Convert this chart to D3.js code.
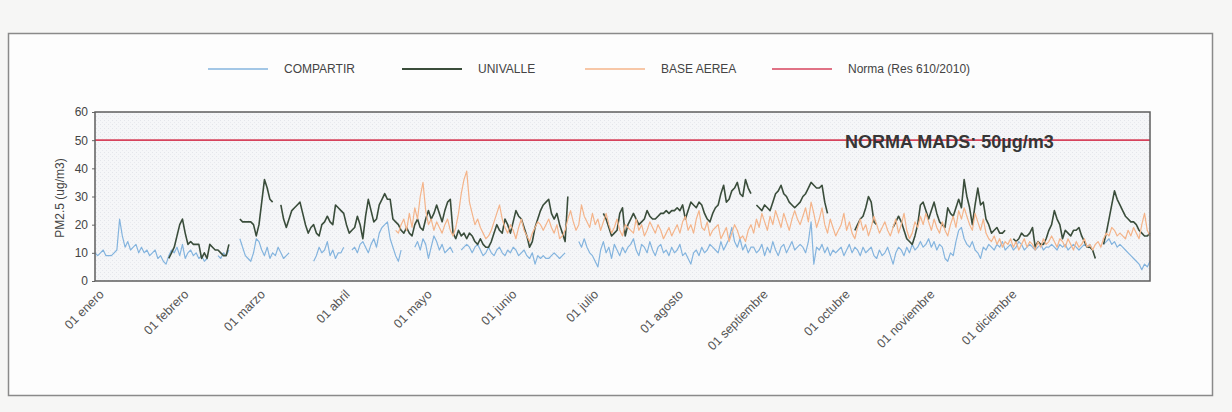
<!DOCTYPE html>
<html>
<head>
<meta charset="utf-8">
<script src="https://cdn.jsdelivr.net/npm/d3@7"></script>
<style>
  body { margin: 0; background: #f6f6f5; }
  svg { display: block; font-family: 'Liberation Sans', Arial, sans-serif; }
</style>
</head>
<body>
<div id="chart"></div>
<script>
// month labels (x axis)
const monthNames = ['enero', 'febrero', 'marzo', 'abril', 'mayo', 'junio', 'julio',
    'agosto', 'septiembre', 'octubre', 'noviembre', 'diciembre'];
const yTicks = [0, 10, 20, 30, 40, 50, 60];
const normaValue = 50;
const year = 2010;

// daily PM2.5 values, one row per month starting 01 enero (last row = next enero), null = no data
const compartir = [
    [10,9,10,11,9,9,9,10,11,22,16,12,14,11,12,13,10,12,10,11,9,10,11,8,9,7,6,9,11,10,12],
    [9,13,8,10,11,9,10,8,9,7,8,null,null,null,9,8,10,9,11,null,null,null,15,12,9,8,7,10],
    [15,14,11,9,12,8,10,9,12,10,8,9,10,null,null,null,null,null,null,null,null,7,9,12,10,11,14,9,11,8,10],
    [10,12,null,null,11,12,10,13,14,12,10,13,15,12,17,19,20,21,15,12,9,7,11,null,null,null,null,12,14,11],
    [15,13,8,12,16,14,11,13,10,11,12,10,null,null,11,12,13,12,10,12,13,11,9,10,12,10,9,11,12,10,9],
    [11,10,12,11,9,10,11,9,8,10,6,9,8,9,8,8,9,10,9,8,9,10,null,null,null,null,14,12,15,12],
    [10,9,7,5,11,14,10,12,8,13,11,9,12,10,12,13,15,11,9,13,12,10,14,11,9,12,13,10,11,9,12],
    [10,11,13,9,10,8,6,10,11,9,12,10,11,13,12,11,10,14,11,13,15,19,14,12,15,11,13,10,12,12,10],
    [11,13,9,12,10,14,11,9,12,13,10,12,14,11,12,13,12,10,14,21,6,12,11,13,10,12,9,11,10,11],
    [12,9,11,13,10,12,11,9,12,10,11,12,9,8,11,9,10,12,9,6,10,12,11,9,12,10,13,11,12,14,12],
    [13,15,12,14,11,13,12,8,7,10,9,14,18,19,15,13,12,14,11,10,8,12,11,13,12,11,13,12,14,11],
    [12,13,11,12,14,13,11,12,13,12,11,12,13,11,12,12,13,12,11,13,12,13,11,12,13,12,11,12,13,12,13],
    [11,null,null,null,13,14,15,13,14,12,13,12,11,10,9,8,7,6,4,6,5,7]
];

const univalle = [
    [null,null,null,null,null,null,null,null,null,null,null,null,null,null,null,null,null,null,null,null,null,null,null,null,null,null,null,8,10,12,16],
    [20,22,17,13,14,13,13,13,8,10,8,13,12,11,11,10,9,9,13,null,null,null,22,21,21,21,21,20],
    [16,20,28,36,33,29,28,null,null,27,22,19,22,25,26,27,28,24,20,17,19,20,17,16,20,21,23,21,20,27,26],
    [25,24,20,17,18,19,23,20,15,23,29,25,21,22,27,29,31,29,29,22,21,20,18,17,19,17,16,20,22,19],
    [18,22,25,22,24,27,24,21,25,28,29,17,15,18,16,17,15,17,16,14,13,15,13,12,12,14,17,20,18,17,22],
    [20,17,21,25,23,22,19,16,12,14,19,22,25,27,28,29,24,22,24,20,17,14,30,null,null,null,null,null,null,null],
    [null,null,null,null,null,24,22,19,16,17,18,24,26,16,20,22,24,22,20,21,22,25,23,22,22,23,24,24,25,24,25],
    [25,26,25,27,22,25,28,27,26,28,27,24,22,21,24,26,27,31,34,28,29,32,33,35,31,30,36,33,31,null,27],
    [26,25,27,26,25,28,31,32,34,31,30,28,27,26,27,28,30,31,33,35,34,33,33,34,28,24,null,null,null,null],
    [null,null,null,null,null,18,20,22,23,26,30,28,21,20,null,null,null,null,null,19,21,23,21,18,15,14,13,16,20,27,28],
    [25,22,25,28,24,21,20,19,26,24,23,26,29,26,36,30,26,20,27,33,27,28,22,20,17,18,19,17,17,18],
    [null,null,15,14,15,17,16,16,17,19,12,14,13,13,15,18,20,25,22,20,15,18,17,16,18,18,19,16,14,12,12],
    [11,8,null,null,13,17,22,27,32,29,27,25,23,22,21,21,20,18,17,16,16,17]
];

const baseAerea = [
    [],
    [],
    [],
    [null,null,null,null,null,null,null,null,null,null,null,null,null,null,null,null,null,null,null,null,18,17,20,22,18,24,19,26,22,30],
    [35,25,20,22,18,21,19,17,20,22,18,16,19,24,31,36,39,28,24,20,22,19,17,15,16,18,21,24,27,22,19],
    [17,20,18,15,19,22,18,16,14,17,19,21,20,18,20,22,19,17,20,15,16,18,22,25,21,18,20,27,23,21],
    [19,24,20,22,18,21,24,20,17,19,22,18,16,20,19,18,17,22,18,20,16,18,21,19,17,20,18,15,17,19,16],
    [18,20,17,21,23,18,20,17,22,25,19,18,21,16,18,19,20,15,17,19,14,17,20,18,15,16,14,18,20,17,22],
    [19,24,21,18,23,20,25,22,19,24,21,18,22,25,22,20,23,26,21,28,24,19,22,26,20,17,22,19,16,18],
    [20,24,18,21,17,15,19,22,18,20,16,19,23,20,17,19,21,18,16,19,22,17,20,24,18,15,17,21,19,23,20],
    [24,21,18,22,19,17,21,18,16,20,23,19,25,22,26,23,20,18,24,21,18,22,17,15,14,16,13,15,12,14],
    [13,15,12,14,11,13,15,12,14,13,11,14,12,15,13,14,16,14,12,15,14,12,15,13,11,14,12,13,15,12,13],
    [11,13,14,12,15,17,16,19,18,16,17,16,15,18,16,19,17,15,20,24,18,16]
];

const legendNames = ['COMPARTIR', 'UNIVALLE', 'BASE AEREA', 'Norma (Res 610/2010)'];
const normaLabel = 'NORMA MADS: 50\u00b5g/m3';

// month rows -> daily records
function toDaily(rows) {
    return rows.flatMap((vals, m) =>
        d3.range(vals.length).map(i => ({
            date: new Date(year, m, i + 1),
            value: vals[i] == null ? null : vals[i]
        }))
    );
}

const width = 1232, height = 412;
const plot = { left: 95, right: 1150, top: 112, bottom: 281 };

const svg = d3.select('#chart').append('svg')
    .attr('width', width)
    .attr('height', height);

// outer chart frame
svg.append('rect')
    .attr('x', 8.5).attr('y', 33.5)
    .attr('width', 1204).attr('height', 362)
    .attr('fill', '#fdfdfd')
    .attr('stroke', '#8a8a8a')
    .attr('stroke-width', 1.5);

// faint texture of the plot area
const defs = svg.append('defs');
const pat = defs.append('pattern')
    .attr('id', 'dots')
    .attr('width', 4).attr('height', 4)
    .attr('patternUnits', 'userSpaceOnUse');
pat.append('rect').attr('width', 4).attr('height', 4).attr('fill', '#f5f6f8');
pat.append('rect').attr('x', 0).attr('y', 0).attr('width', 1).attr('height', 1).attr('fill', '#e3e5ea');
pat.append('rect').attr('x', 2).attr('y', 2).attr('width', 1).attr('height', 1).attr('fill', '#e8e9ee');

// axis runs from 01 enero to the last reading in the next enero
const x = d3.scaleTime()
    .domain([new Date(year, 0, 1), new Date(year + 1, 0, 22)])
    .range([plot.left, plot.right]);
const y = d3.scaleLinear()
    .domain([0, 60])
    .range([plot.bottom, plot.top]);

svg.append('rect')
    .attr('x', plot.left).attr('y', plot.top)
    .attr('width', plot.right - plot.left)
    .attr('height', plot.bottom - plot.top)
    .attr('fill', 'url(#dots)');

// Y axis
const yAxis = svg.append('g')
    .attr('transform', `translate(${plot.left},0)`)
    .call(d3.axisLeft(y).tickValues(yTicks).tickSize(3).tickPadding(4));
yAxis.select('.domain').remove();
yAxis.selectAll('line').attr('stroke', '#666');
yAxis.selectAll('text')
    .attr('fill', '#444')
    .style('font-size', '12px')
    .style('font-family', "'Liberation Sans', Arial, sans-serif");

// Y axis label
svg.append('text')
    .attr('transform', 'rotate(-90)')
    .attr('x', -198)
    .attr('y', 64)
    .attr('text-anchor', 'middle')
    .attr('fill', '#444')
    .style('font-size', '12px')
    .text('PM2.5 (ug/m3)');

// X axis
const tickDates = monthNames.map((m, i) => new Date(year, i, 1));
const xAxis = svg.append('g')
    .attr('transform', `translate(0,${plot.bottom})`)
    .call(d3.axisBottom(x)
        .tickValues(tickDates)
        .tickSize(0)
        .tickFormat((d, i) => '01 ' + monthNames[i]));
xAxis.select('.domain').remove();
xAxis.selectAll('text')
    .attr('x', 0).attr('y', 0).attr('dy', '0.35em')
    .attr('transform', 'translate(6,11) rotate(-45)')
    .style('text-anchor', 'end')
    .style('font-size', '12.5px')
    .attr('fill', '#555');

// series lines
const line = d3.line()
    .defined(d => d.value != null)
    .x(d => x(d.date))
    .y(d => y(d.value));

const series = [
    { name: legendNames[0], data: toDaily(compartir), color: '#84b4de', width: 1.2 },
    { name: legendNames[1], data: toDaily(univalle), color: '#3a4d3b', width: 1.6 },
    { name: legendNames[2], data: toDaily(baseAerea), color: '#f4b48a', width: 1.2 }
];

svg.selectAll('.series')
    .data(series)
    .enter()
    .append('path')
    .attr('class', 'series')
    .attr('fill', 'none')
    .attr('stroke', d => d.color)
    .attr('stroke-width', d => d.width)
    .attr('stroke-linejoin', 'round')
    .attr('d', d => line(d.data));

// norma line
const normaData = [
    { date: x.domain()[0], value: normaValue },
    { date: x.domain()[1], value: normaValue }
];
svg.append('path')
    .attr('fill', 'none')
    .attr('stroke', '#d6435c')
    .attr('stroke-width', 1.8)
    .attr('d', line(normaData));

// plot frame
svg.append('rect')
    .attr('x', plot.left).attr('y', plot.top)
    .attr('width', plot.right - plot.left)
    .attr('height', plot.bottom - plot.top)
    .attr('fill', 'none')
    .attr('stroke', '#5e5e5e')
    .attr('stroke-width', 1.5);

// norma annotation
svg.append('text')
    .attr('x', 845)
    .attr('y', 148)
    .attr('fill', '#363636')
    .style('font-weight', 'bold')
    .style('font-size', '18px')
    .text(normaLabel);

// legend
const legendItems = [
    { name: legendNames[0], color: '#84b4de', x: 208 },
    { name: legendNames[1], color: '#3a4d3b', x: 402 },
    { name: legendNames[2], color: '#f4b48a', x: 585 },
    { name: legendNames[3], color: '#d6435c', x: 772 }
];
const legend = svg.append('g').attr('transform', 'translate(0,69)');
const li = legend.selectAll('g').data(legendItems).enter().append('g')
    .attr('transform', d => `translate(${d.x},0)`);
li.append('line')
    .attr('x1', 0).attr('x2', 60)
    .attr('stroke', d => d.color)
    .attr('stroke-width', (d, i) => i === 1 ? 1.8 : 1.6);
li.append('text')
    .attr('x', 76)
    .attr('dy', '0.35em')
    .attr('fill', '#444')
    .style('font-size', '12px')
    .text(d => d.name);
</script>
</body>
</html>
